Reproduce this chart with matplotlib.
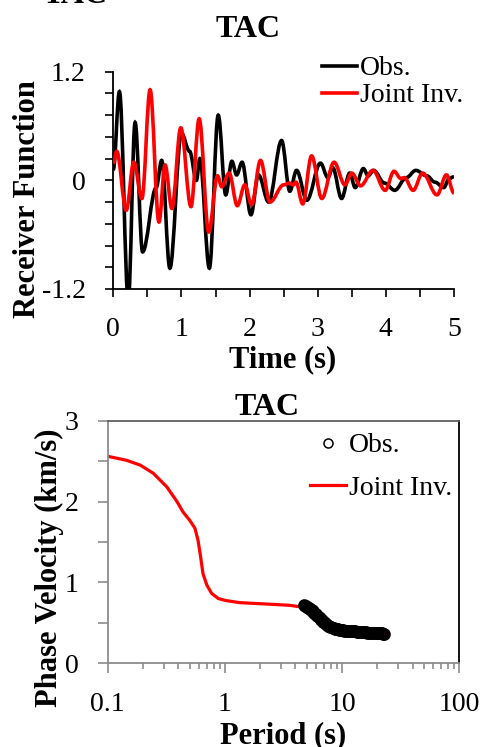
import numpy as np
import matplotlib
matplotlib.use("Agg")
import matplotlib.pyplot as plt
from matplotlib.path import Path
from matplotlib.patches import PathPatch
from matplotlib.lines import Line2D
from matplotlib.ticker import MultipleLocator, LogLocator, NullFormatter

plt.rcParams['font.family'] = ['Liberation Serif', 'DejaVu Serif']

obs_t = [0.00, 0.09, 0.22, 0.32, 0.43, 0.63, 0.71, 0.83, 1.00, 1.12, 1.22, 1.27, 1.41,
         1.54, 1.65, 1.74, 1.81, 1.89, 2.02, 2.13, 2.28, 2.47, 2.59, 2.69, 2.84, 3.04,
         3.15, 3.22, 3.35, 3.47, 3.55, 3.67, 3.74, 3.82, 3.98, 4.13, 4.30, 4.44, 4.60,
         4.72, 4.85, 4.93, 5.00]
obs_rf = [0.12, 0.98, -1.32, 0.64, -0.79, -0.08, 0.22, -0.97, 0.52, 0.32, 0.00, 0.24, -0.97,
          0.72, -0.16, 0.21, 0.06, 0.20, -0.38, 0.06, -0.24, 0.44, -0.12, 0.11, -0.22, 0.19,
          0.03, 0.14, -0.20, 0.08, -0.08, 0.13, 0.05, 0.11, -0.03, -0.11, 0.03, 0.11, 0.05,
          -0.02, -0.08, 0.02, 0.04]

# receiver function, joint inversion
inv_t = [0.00, 0.05, 0.19, 0.30, 0.42, 0.54, 0.67, 0.76, 0.86, 0.99, 1.14, 1.26, 1.40,
         1.53, 1.59, 1.70, 1.82, 1.93, 2.03, 2.16, 2.30, 2.50, 2.58, 2.64, 2.68, 2.78,
         2.91, 3.06, 3.24, 3.40, 3.50, 3.63, 3.81, 3.99, 4.12, 4.22, 4.27, 4.40, 4.54,
         4.75, 4.89, 5.00]
inv_rf = [0.19, 0.32, -0.33, 0.20, -0.20, 1.00, -0.46, 0.17, -0.31, 0.58, -0.29, 0.68, -0.57,
          0.05, -0.07, 0.08, -0.28, -0.05, -0.27, 0.22, -0.24, -0.05, -0.03, -0.05, -0.02, -0.26,
          0.27, -0.20, 0.20, -0.05, 0.08, -0.06, 0.11, -0.11, 0.10, 0.02, 0.03, -0.11, 0.08,
          -0.16, 0.06, -0.14]

# dispersion, observed
obs_period = [4.7, 4.8, 4.9, 5.0, 5.1, 5.2, 5.3, 5.4, 5.5, 5.6, 5.7, 5.8, 5.9, 6.0, 6.15,
              6.3, 6.45, 6.6, 6.75, 6.9, 7.05, 7.2, 7.35, 7.5, 7.65, 7.8, 7.95, 8.1, 8.3,
              8.5, 8.7, 8.9, 9.1, 9.3, 9.5, 9.7, 9.95, 10.2, 10.45, 10.7, 10.95, 11.2, 11.5,
              11.8, 12.1, 12.4, 12.7, 13.0, 13.35, 13.7, 14.05, 14.4, 14.8, 15.2, 15.6, 16.0,
              16.45, 16.9, 17.35, 17.8, 18.3, 18.8, 19.3, 19.8, 20.35, 20.9, 21.45, 22.0,
              22.5, 23.0]
obs_vel = [0.715, 0.71, 0.705, 0.70, 0.69, 0.685, 0.675, 0.665, 0.655, 0.645, 0.635, 0.625,
           0.615, 0.605, 0.59, 0.575, 0.56, 0.54, 0.53, 0.515, 0.505, 0.495, 0.485, 0.475,
           0.465, 0.46, 0.455, 0.45, 0.44, 0.435, 0.43, 0.425, 0.42, 0.42, 0.415, 0.415,
           0.41, 0.41, 0.405, 0.405, 0.405, 0.405, 0.40, 0.40, 0.40, 0.40, 0.395, 0.395,
           0.39, 0.39, 0.39, 0.39, 0.385, 0.385, 0.385, 0.385, 0.38, 0.38, 0.38, 0.38,
           0.375, 0.375, 0.375, 0.375, 0.37, 0.37, 0.37, 0.37, 0.365, 0.365]

# dispersion, joint inversion
inv_period = [0.1, 0.145, 0.19, 0.245, 0.32, 0.39, 0.44, 0.50, 0.555, 0.59, 0.62, 0.65,
              0.70, 0.77, 0.88, 1.03, 1.34, 2.26, 3.58, 4.8, 5.85, 7.0, 8.5, 10.0, 14.0,
              18.0, 23.0]
inv_vel = [2.56, 2.51, 2.45, 2.35, 2.18, 2.00, 1.87, 1.77, 1.67, 1.52, 1.32, 1.11,
           0.97, 0.865, 0.80, 0.775, 0.75, 0.733, 0.717, 0.69, 0.60, 0.51, 0.44, 0.41, 0.385,
           0.37, 0.36]


def smooth_path(t, v, k=0.36):
    # cubic bezier through the turning points, flat tangent at each one
    verts = [(t[0], v[0])]
    codes = [Path.MOVETO]
    for i in range(1, len(t)):
        d = t[i] - t[i - 1]
        verts += [(t[i - 1] + k * d, v[i - 1]), (t[i] - k * d, v[i]), (t[i], v[i])]
        codes += [Path.CURVE4] * 3
    return Path(verts, codes)


fig = plt.figure(figsize=(4.86, 7.47), dpi=100)
W, H = 486.0, 747.0

tick_fs = 20
lab_fs = 22
title_fs = 23

# ---- receiver function ----
ax1 = fig.add_axes([113.3 / W, 1 - 289 / H, 340.7 / W, 217.3 / H])
ax1.add_patch(PathPatch(smooth_path(obs_t, obs_rf), fill=False, edgecolor='black', lw=2.6,
                        transform=ax1.transData, zorder=2))
ax1.add_patch(PathPatch(smooth_path(inv_t, inv_rf), fill=False, edgecolor='red', lw=2.6,
                        transform=ax1.transData, zorder=3))
ax1.set_xlim(0, 5)
ax1.set_ylim(-1.2, 1.2)
ax1.set_xticks([0, 1, 2, 3, 4, 5])
ax1.set_xticklabels(['0', '1', '2', '3', '4', '5'])
ax1.xaxis.set_minor_locator(MultipleLocator(0.5))
ax1.set_yticks([-1.2, 0, 1.2])
ax1.set_yticklabels(['-1.2', '0', '1.2'])
ax1.yaxis.set_minor_locator(MultipleLocator(0.24))
ax1.spines['top'].set_visible(False)
ax1.spines['right'].set_visible(False)
for s in ['left', 'bottom']:
    ax1.spines[s].set_linewidth(1.3)
ax1.tick_params(which='both', direction='out', length=6, width=1.2, color='black',
                labelsize=tick_fs, pad=14)
ax1.legend(handles=[Line2D([], [], color='black', lw=2.6), Line2D([], [], color='red', lw=2.6)],
           labels=['Obs.', 'Joint Inv.'], loc='upper left',
           bbox_to_anchor=(322 / W, 1 - 56 / H), bbox_transform=fig.transFigure,
           frameon=False, fontsize=20, handlelength=1.25, handletextpad=0.1,
           labelspacing=0.05, borderpad=0, borderaxespad=0)

fig.text(248 / W, 1 - 36.7 / H, 'TAC', fontsize=title_fs, fontweight='bold', ha='center',
         va='baseline')
fig.text(75 / W, 1 - 3 / H, 'TAC', fontsize=title_fs, fontweight='bold', ha='center',
         va='baseline')
fig.text(283 / W, 1 - 367 / H, 'Time (s)', fontsize=lab_fs, fontweight='bold', ha='center',
         va='baseline')
fig.text(35 / W, 1 - 199 / H, 'Receiver Function', fontsize=lab_fs, fontweight='bold',
         rotation=90, rotation_mode='anchor', ha='center', va='baseline')

# ---- dispersion ----
gray = '#8c8c8c'
ax2 = fig.add_axes([107.7 / W, 1 - 663.3 / H, 351.6 / W, 242.6 / H])
ax2.plot(inv_period, inv_vel, color='red', lw=2.3, zorder=2)
ax2.plot(obs_period, obs_vel, 'o', ms=7.5, mfc='none', mec='black', mew=1.6, zorder=3)
ax2.set_xscale('log')
ax2.set_xlim(0.1, 100)
ax2.set_ylim(0, 3)
ax2.set_xticks([0.1, 1, 10, 100])
ax2.set_xticklabels(['0.1', '1', '10', '100'])
ax2.xaxis.set_minor_locator(LogLocator(base=10, subs=np.arange(2, 10)))
ax2.xaxis.set_minor_formatter(NullFormatter())
ax2.set_yticks([0, 1, 2, 3])
ax2.set_yticklabels(['0', '1', '2', '3'])
ax2.yaxis.set_minor_locator(MultipleLocator(0.5))
ax2.spines['left'].set_color(gray)
ax2.spines['bottom'].set_color(gray)
ax2.spines['top'].set_color('#606060')
ax2.spines['right'].set_color('black')
for s in ax2.spines.values():
    s.set_linewidth(1.3)
ax2.tick_params(which='major', direction='out', length=7, width=1.2, color=gray,
                labelsize=tick_fs, pad=14)
ax2.tick_params(axis='y', which='minor', direction='out', length=7, width=1.2, color=gray)
ax2.tick_params(axis='x', which='minor', direction='out', length=4.5, width=1.2, color=gray)
ax2.legend(handles=[Line2D([], [], ls='none', marker='o', ms=6.5, mfc='none', mec='black',
                           mew=1.1),
                    Line2D([], [], color='red', lw=2.3)],
           labels=['Obs.', 'Joint Inv.'], loc='upper left',
           bbox_to_anchor=(310 / W, 1 - 433 / H), bbox_transform=fig.transFigure,
           frameon=False, fontsize=20, handlelength=1.3, handletextpad=0.1,
           labelspacing=0.6, borderpad=0, borderaxespad=0)

fig.text(267 / W, 1 - 415 / H, 'TAC', fontsize=title_fs, fontweight='bold', ha='center',
         va='baseline')
fig.text(283 / W, 1 - 743 / H, 'Period (s)', fontsize=lab_fs, fontweight='bold', ha='center',
         va='baseline')
fig.text(57 / W, 1 - 568 / H, 'Phase Velocity (km/s)', fontsize=lab_fs, fontweight='bold',
         rotation=90, rotation_mode='anchor', ha='center', va='baseline')

fig.savefig('out.png', dpi=100)
